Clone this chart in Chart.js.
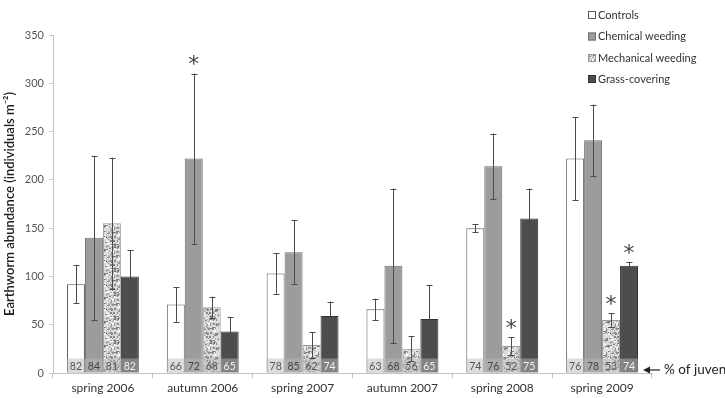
<!DOCTYPE html>
<html><head><meta charset="utf-8">
<script src="https://cdn.jsdelivr.net/npm/chart.js@4.4.1/dist/chart.umd.min.js"></script>
<style>html,body{margin:0;padding:0;background:#fff;}#wrap{width:725px;height:398px;position:relative;overflow:hidden;}</style>
</head><body><div id="wrap"><canvas id="c" width="725" height="398"></canvas></div>
<script>
const categories = ['spring 2006','autumn 2006','spring 2007','autumn 2007','spring 2008','spring 2009'];
const seriesNames = ['Controls','Chemical weeding','Mechanical weeding','Grass-covering'];
const controls   = [92, 71, 103, 66, 150, 222];
const chemical   = [140, 222, 125, 111, 214, 241];
const mechanical = [155, 68, 29, 25, 28, 55];
const grass      = [100, 43, 59, 56, 160, 111];
const controlsErr   = [20, 18, 21, 11, 4, 43];
const chemicalErr   = [85, 88, 33, 80, 34, 37];
const mechanicalErr = [68, 11, 13, 13, 9, 7];
const grassErr      = [27, 15, 15, 35, 31, 4];
const controlsJuv   = [82, 66, 78, 63, 74, 76];
const chemicalJuv   = [84, 72, 85, 68, 76, 78];
const mechanicalJuv = [81, 68, 62, 56, 52, 53];
const grassJuv      = [82, 65, 74, 65, 75, 74];
const controlsSig   = [0,0,0,0,0,0];
const chemicalSig   = [0,1,0,0,0,0];
const mechanicalSig = [0,0,0,0,1,1];
const grassSig      = [0,0,0,0,0,1];
const yTicks = [0, 50, 100, 150, 200, 250, 300, 350];
const juvBandValue = 15;
const juvAxisLabel = '% of juveniles';

const errs = [controlsErr, chemicalErr, mechanicalErr, grassErr];
const juvs = [controlsJuv, chemicalJuv, mechanicalJuv, grassJuv];
const sigs = [controlsSig, chemicalSig, mechanicalSig, grassSig];

// speckled texture for mechanical weeding
function makePattern(){
  const p = document.createElement('canvas'); p.width = 24; p.height = 24;
  const g = p.getContext('2d');
  g.fillStyle = '#dcdcdc'; g.fillRect(0,0,24,24);
  let s = 12345;
  function h(){ s = (s*1103515245 + 12345) & 0x7fffffff; return s/0x7fffffff; }
  for (let i=0;i<170;i++){
    const x = Math.floor(h()*24), y = Math.floor(h()*24);
    const v = h();
    g.fillStyle = v<0.45 ? 'rgba(120,120,120,0.85)' : (v<0.8 ? 'rgba(165,165,165,0.85)' : '#f8f8f8');
    g.fillRect(x,y,1+(h()<0.5?1:0),1+(h()<0.3?1:0));
  }
  return document.getElementById('c').getContext('2d').createPattern(p,'repeat');
}
const mechPattern = makePattern();

const fills = ['#ffffff', '#9c9c9c', mechPattern, '#4d4d4d'];
const borders = ['#5a5a5a', '#707070', '#9a9a9a', '#333333'];
const juvTextColors = ['#555', '#444', '#555', '#f2f2f2'];

const overlay = {
  id: 'overlay',
  afterDatasetsDraw(chart){
    const ctx = chart.ctx, y = chart.scales.y;
    ctx.save();
    chart.data.datasets.forEach((ds, di) => {
      const meta = chart.getDatasetMeta(di);
      meta.data.forEach((bar, i) => {
        const p = bar.getProps(['x','y','base','width'], true);
        const yb = y.getPixelForValue(0), yt = y.getPixelForValue(juvBandValue);
        ctx.fillStyle = 'rgba(185,185,185,0.5)';
        ctx.fillRect(p.x - p.width/2, yt, p.width, yb - yt);
        ctx.fillStyle = juvTextColors[di];
        ctx.font = '10.5px Lato';
        ctx.textAlign = 'center'; ctx.textBaseline = 'middle';
        ctx.fillText(String(juvs[di][i]), p.x, (yt+yb)/2 + 0.5);
      });
    });
    // error bars
    chart.data.datasets.forEach((ds, di) => {
      const meta = chart.getDatasetMeta(di);
      meta.data.forEach((bar, i) => {
        const p = bar.getProps(['x'], true);
        const v = ds.data[i], e = errs[di][i];
        const yTop = y.getPixelForValue(v + e), yBot = y.getPixelForValue(v - e);
        const x = Math.round(p.x) + 0.5;
        ctx.strokeStyle = '#4a4a4a'; ctx.lineWidth = 1;
        ctx.beginPath();
        ctx.moveTo(x, yTop); ctx.lineTo(x, yBot);
        ctx.moveTo(x-3, Math.round(yTop)+0.5); ctx.lineTo(x+3, Math.round(yTop)+0.5);
        ctx.moveTo(x-3, Math.round(yBot)+0.5); ctx.lineTo(x+3, Math.round(yBot)+0.5);
        ctx.stroke();
        if (sigs[di][i]) {
          ctx.fillStyle = '#444';
          ctx.font = '22px "DejaVu Sans"';
          ctx.textAlign = 'center'; ctx.textBaseline = 'middle';
          ctx.fillText('*', p.x, yTop - 8);
        }
      });
    });
    // legend
    const lx = 588, ly = [15, 36.5, 58, 79];
    ctx.font = '11px Lato'; ctx.textAlign = 'left'; ctx.textBaseline = 'middle';
    seriesNames.forEach((n, k) => {
      ctx.fillStyle = fills[k];
      ctx.fillRect(lx, ly[k]-4, 8, 8);
      ctx.strokeStyle = borders[k]; ctx.lineWidth = 1;
      ctx.strokeRect(lx+0.5, ly[k]-3.5, 7, 7);
      ctx.fillStyle = '#333';
      ctx.fillText(n, lx + 10, ly[k]);
    });
    // juvenile annotation arrow + text
    const ay = y.getPixelForValue(0) - 3;
    const ax0 = chart.chartArea.right + 8, ax1 = chart.chartArea.right - 9;
    ctx.strokeStyle = '#222'; ctx.lineWidth = 1.2;
    ctx.beginPath(); ctx.moveTo(ax0, ay); ctx.lineTo(ax1+4, ay); ctx.stroke();
    ctx.fillStyle = '#222';
    ctx.beginPath(); ctx.moveTo(ax1, ay); ctx.lineTo(ax1+7, ay-3.5); ctx.lineTo(ax1+7, ay+3.5); ctx.closePath(); ctx.fill();
    ctx.font = '13.5px Lato'; ctx.fillStyle = '#222';
    ctx.fillText(juvAxisLabel, ax0 + 4, ay);
    ctx.restore();
  }
};

const seriesData = [controls, chemical, mechanical, grass];
new Chart(document.getElementById('c'), {
  type: 'bar',
  data: {
    labels: categories,
    datasets: seriesNames.map((n, k) => ({
      label: n, data: seriesData[k],
      backgroundColor: fills[k], borderColor: borders[k], borderWidth: 1,
      categoryPercentage: 0.72, barPercentage: 1.0
    }))
  },
  options: {
    responsive: false, animation: false,
    layout: { padding: { top: 35, right: 73, left: 0, bottom: 0 } },
    plugins: { legend: { display: false }, tooltip: { enabled: false } },
    scales: {
      x: {
        grid: { drawOnChartArea: false, color: '#c4c4c4', tickLength: 5, offset: true },
        border: { color: '#c4c4c4' },
        ticks: { color: '#333', font: { family: 'Lato', size: 12 }, padding: 3, maxRotation: 0 },
        afterFit: s => { s.height = 25; }
      },
      y: {
        min: 0, max: 350,
        afterBuildTicks: s => { s.ticks = yTicks.map(v => ({ value: v })); },
        grid: { drawOnChartArea: false, color: '#c4c4c4', tickLength: 4 },
        border: { color: '#c4c4c4' },
        ticks: { color: '#555', font: { family: 'Lato', size: 11 }, padding: 5 },
        title: { display: true, text: 'Earthworm abundance (individuals m⁻²)', color: '#1e1e1e',
                 font: { family: 'Lato', size: 13, weight: '600' }, padding: { top: 2, bottom: 0 } },
        afterFit: s => { s.width = 53; }
      }
    }
  },
  plugins: [overlay]
});
</script></body></html>
